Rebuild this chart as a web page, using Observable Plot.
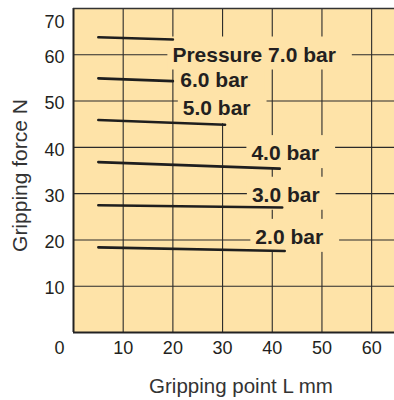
<!DOCTYPE html>
<html><head><meta charset="utf-8">
<script src="https://cdn.jsdelivr.net/npm/d3@7"></script>
<script src="https://cdn.jsdelivr.net/npm/@observablehq/plot@0.6"></script>
<style>html,body{margin:0;padding:0;background:#fff} #chart svg{display:block}</style>
</head><body><div id="chart"></div>
<script>
// Data
const pressures   = ["7.0", "6.0", "5.0", "4.0", "3.0", "2.0"];
const startL      = [5, 5, 5, 5, 5, 5];
const endL        = [20, 20, 30.5, 41.5, 42, 42.5];
const startForce  = [63.8, 54.9, 45.9, 36.8, 27.5, 18.4];
const endForce    = [63.3, 54.3, 44.9, 35.4, 27.0, 17.6];
const labelText   = ["Pressure 7.0 bar", "6.0 bar", "5.0 bar", "4.0 bar", "3.0 bar", "2.0 bar"];
const labelL      = [19.9, 21.5, 22.0, 35.8, 35.9, 36.6];
const labelForce  = [60, 54.4, 48.4, 38.7, 29.7, 20.6];
const xTicks = [10, 20, 30, 40, 50, 60];
const yTicks = [10, 20, 30, 40, 50, 60];
const xTitle = "Gripping point L mm";
const yTitle = "Gripping force N";

const lineRows = pressures.flatMap((p, i) => [
  {p, L: startL[i], F: startForce[i]},
  {p, L: endL[i], F: endForce[i]}
]);
const labelRows = labelText.map((t, i) => ({t, L: labelL[i], F: labelForce[i]}));

const BG = "#fee3a8";
const INK = "#231f20";

const chart = Plot.plot({
  width: 394, height: 400,
  marginLeft: 73, marginRight: 0, marginTop: 8, marginBottom: 68,
  style: {fontFamily: "'Liberation Sans', Arial, sans-serif", background: "transparent"},
  x: {domain: [0, 64.6]},
  y: {domain: [0, 70]},
  marks: [
    Plot.frame({fill: BG, stroke: null}),
    Plot.gridX(xTicks, {stroke: "#2a2a2a", strokeOpacity: 1, strokeWidth: 1.1}),
    Plot.gridY(yTicks, {stroke: "#2a2a2a", strokeOpacity: 1, strokeWidth: 1.1}),
    Plot.text(labelRows, {x: "L", y: "F", text: "t", textAnchor: "start", lineAnchor: "middle",
      fontFamily: "'Liberation Sans', Arial, sans-serif", fontWeight: "bold", fontSize: 21, fill: INK}),
    Plot.line(lineRows, {x: "L", y: "F", z: "p", stroke: "#1e1e1e", strokeWidth: 2.6}),
    Plot.ruleX([0], {stroke: "#222", strokeWidth: 2}),
    Plot.ruleY([0], {stroke: "#222", strokeWidth: 2}),
    Plot.ruleY([70], {stroke: "#333", strokeWidth: 1.6}),
    Plot.axisX(xTicks, {tickSize: 0, tickPadding: 9, fontSize: 18, fill: INK, label: null}),
    Plot.axisX([0], {tickSize: 0, tickPadding: 9, fontSize: 18, fill: INK, dx: -14, label: null}),
    Plot.axisY(yTicks, {tickSize: 0, tickPadding: 9, fontSize: 18, fill: INK, dy: 2.5, label: null}),
    Plot.axisY([70], {tickSize: 0, tickPadding: 9, fontSize: 18, fill: INK, dy: 14, label: null}),
    Plot.text([xTitle], {frameAnchor: "bottom", textAnchor: "middle", lineAnchor: "middle", dy: 54, dx: 7, fontSize: 20.5, fill: "#333"}),
    Plot.text([yTitle], {frameAnchor: "left", textAnchor: "middle", lineAnchor: "middle", rotate: -90, dx: -53, dy: 5, fontSize: 21, fill: "#333"})
  ]
});
document.getElementById("chart").append(chart);

// knock out the grid behind the pressure labels, as in the reference
const labelSet = new Set(labelText);
const labelNodes = Array.from(chart.querySelectorAll("text")).filter(t => labelSet.has(t.textContent));
labelNodes.forEach(t => {
  const bb = t.getBBox();
  const r = document.createElementNS("http://www.w3.org/2000/svg", "rect");
  r.setAttribute("x", bb.x - 5);
  r.setAttribute("y", bb.y - 6);
  r.setAttribute("width", bb.width + 21);
  r.setAttribute("height", bb.height + 10);
  r.setAttribute("fill", BG);
  const tr = t.getAttribute("transform");
  if (tr) r.setAttribute("transform", tr);
  const parent = t.parentNode;
  parent.insertBefore(r, parent.firstChild);
});
</script>
</body></html>
